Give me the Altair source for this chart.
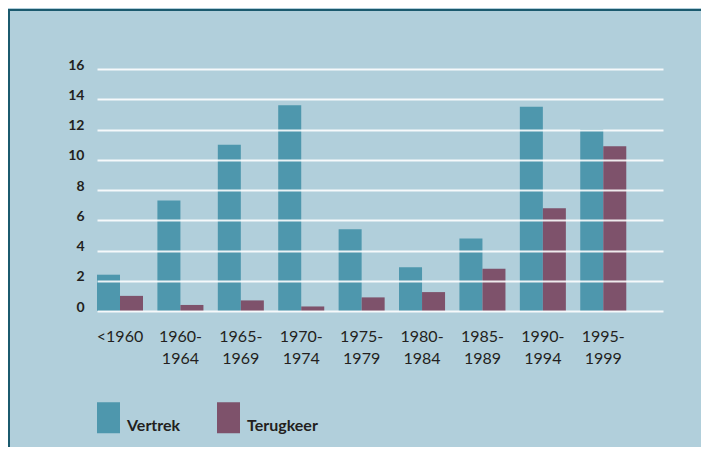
import altair as alt
import pandas as pd

categories = ["<1960", "1960-1964", "1965-1969", "1970-1974", "1975-1979",
              "1980-1984", "1985-1989", "1990-1994", "1995-1999"]
vertrek = [2.4, 7.3, 11.0, 13.6, 5.4, 2.9, 4.8, 13.5, 12.0]
terugkeer = [1.0, 0.4, 0.7, 0.3, 0.9, 1.25, 2.8, 6.8, 10.9]
series = ["Vertrek", "Terugkeer"]
y_ticks = [0, 2, 4, 6, 8, 10, 12, 14, 16]

rows = []
for c, v, t in zip(categories, vertrek, terugkeer):
    rows.append({"periode": c, "reeks": "Vertrek", "waarde": v})
    rows.append({"periode": c, "reeks": "Terugkeer", "waarde": t})
df = pd.DataFrame(rows)

FONT = "Lato"
TEXT = "#231f20"

bars = alt.Chart(df).mark_bar(strokeWidth=0).encode(
    x=alt.X("periode:N", sort=categories,
            scale=alt.Scale(paddingInner=0.238, paddingOuter=0.304, align=0),
            axis=alt.Axis(title=None, domain=False, ticks=False, labelAngle=0,
                          labelFont=FONT, labelFontSize=16, labelColor=TEXT,
                          labelPadding=17, labelLineHeight=22,
                          labelExpr="datum.label == '<1960' ? datum.label : [slice(datum.label, 0, 5), slice(datum.label, 5)]")),
    xOffset=alt.XOffset("reeks:N", sort=series,
                        scale=alt.Scale(paddingInner=0, paddingOuter=0)),
    y=alt.Y("waarde:Q", scale=alt.Scale(domain=[0, 16], nice=False),
            axis=alt.Axis(title=None, domain=False, ticks=False, values=y_ticks,
                          labelFont=FONT, labelFontWeight="bold", labelFontSize=14,
                          labelColor=TEXT, labelPadding=13, labelOffset=-4,
                          grid=True, gridColor="white", gridWidth=2,
                          gridOpacity=0.88, zindex=1)),
    color=alt.Color("reeks:N", sort=series,
                    scale=alt.Scale(domain=series, range=["#4e97ad", "#7e526b"]),
                    legend=alt.Legend(title=None, orient="none", direction="horizontal",
                                      legendX=-4, legendY=333, padding=0,
                                      symbolType="M-0.742,-1H0.742V1H-0.742Z",
                                      symbolSize=961, symbolStrokeWidth=0,
                                      symbolOpacity=1, labelOffset=3,
                                      labelFont=FONT, labelFontWeight="bold",
                                      labelFontSize=16, labelColor=TEXT,
                                      labelBaseline="top", columnPadding=32)),
)

frame_df = pd.DataFrame({"k": [0]})
top_border = alt.Chart(frame_df).mark_rule(color="#1b5a6e", strokeWidth=2).encode(
    x=alt.value(-89), x2=alt.value(604), y=alt.value(-59))
left_border = alt.Chart(frame_df).mark_rule(color="#1b5a6e", strokeWidth=2).encode(
    x=alt.value(-88), y=alt.value(-60), y2=alt.value(378))

chart = alt.layer(bars, top_border, left_border).properties(
    width=566, height=242,
    background="#b1cfdb",
    padding={"left": 89, "top": 61, "right": 38, "bottom": 136},
    autosize=alt.AutoSizeParams(type="none"),
).configure_view(stroke=None)

chart.save("out.html", embed_options={"renderer": "svg", "actions": False})
